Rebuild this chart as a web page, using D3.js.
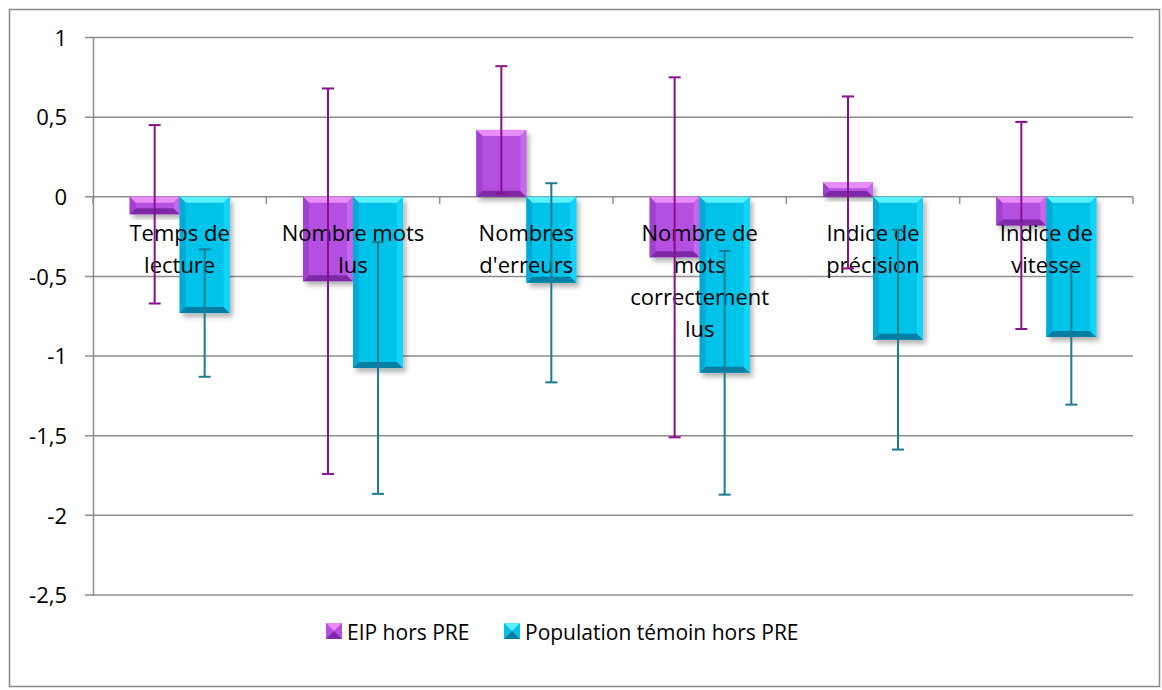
<!DOCTYPE html>
<html>
<head>
<meta charset="utf-8">
<script src="https://cdn.jsdelivr.net/npm/d3@7"></script>
<style>
  body { margin: 0; background: #fff; }
  text { font-family: "Open Sans", "Noto Sans", sans-serif; fill: #000; }
</style>
</head>
<body>
<script>
// data
var categories = ["Temps de lecture", "Nombre mots lus", "Nombres d'erreurs",
                  "Nombre de mots correctement lus", "Indice de précision", "Indice de vitesse"];
var catLines = [["Temps de", "lecture"], ["Nombre mots", "lus"], ["Nombres", "d'erreurs"],
                ["Nombre de", "mots", "correctement", "lus"], ["Indice de", "précision"], ["Indice de", "vitesse"]];
var series = ["EIP hors PRE", "Population témoin hors PRE"];
var eipValues = [-0.11, -0.53, 0.42, -0.38, 0.09, -0.18];
var eipErr = [0.56, 1.21, 0.40, 1.13, 0.54, 0.65];
var popValues = [-0.73, -1.075, -0.54, -1.105, -0.897, -0.88];
var popErr = [0.40, 0.79, 0.625, 0.765, 0.69, 0.425];
var yTicks = [1, 0.5, 0, -0.5, -1, -1.5, -2, -2.5];

var W = 1162, H = 690;
var plot = {left: 93, right: 1133, top: 37.5, bottom: 595};

var svg = d3.select("body").append("svg")
    .attr("width", W)
    .attr("height", H);

var defs = svg.append("defs");
var shadow = defs.append("filter").attr("id", "shadow")
    .attr("x", "-20%").attr("y", "-20%").attr("width", "150%").attr("height", "150%");
shadow.append("feDropShadow")
    .attr("dx", 3).attr("dy", 4).attr("stdDeviation", 2.5)
    .attr("flood-color", "#000").attr("flood-opacity", 0.3);

// colours per series: main, top bevel, side light, side dark, bottom bevel
var pal = [
  {main: "#b44fe2", top: "#ea8cf7", light: "#c566ee", dark: "#a040cf", bottom: "#7e2aa6", err: "#8a0f8e"},
  {main: "#04c3ea", top: "#5cf1ff", light: "#14d3f8", dark: "#03aad3", bottom: "#047fa3", err: "#1b7b90"}
];

// outer frame
svg.append("rect")
    .attr("x", 9.5).attr("y", 9.5)
    .attr("width", 1150).attr("height", 677)
    .attr("fill", "none").attr("stroke", "#8a8a8a").attr("stroke-width", 1.5);

var x0 = d3.scaleBand().domain(categories).range([plot.left, plot.right])
    .paddingInner(0.423).paddingOuter(0.2115);
var x1 = d3.scaleBand().domain(series).range([0, x0.bandwidth()]);
var y = d3.scaleLinear().domain([-2.5, 1]).range([plot.bottom, plot.top]);

// gridlines
svg.append("g").selectAll("line")
    .data(yTicks)
    .enter().append("line")
      .attr("x1", plot.left - 8).attr("x2", plot.right)
      .attr("y1", function(d) { return y(d); })
      .attr("y2", function(d) { return y(d); })
      .attr("stroke", "#8c8c8c").attr("stroke-width", 1.5);

// y axis
var yAxis = d3.axisLeft(y).tickValues(yTicks).tickSize(0).tickPadding(26)
    .tickFormat(function(d) { return String(d).replace(".", ","); });
var gy = svg.append("g").attr("transform", "translate(" + plot.left + ",0)").call(yAxis);
gy.select(".domain").attr("stroke", "#8c8c8c").attr("stroke-width", 1.5);
gy.selectAll("text").style("font-size", "22px").attr("dy", "0.35em");

// category ticks on the zero line
var catEdges = categories.map(function(c) { return x0(c) - x0.step() * 0.2115; });
catEdges.push(plot.right);
svg.append("g").selectAll("line")
    .data(catEdges)
    .enter().append("line")
      .attr("x1", function(d) { return d; }).attr("x2", function(d) { return d; })
      .attr("y1", y(0)).attr("y2", y(0) + 7)
      .attr("stroke", "#8c8c8c").attr("stroke-width", 1.5);

// bars
var rows = [];
categories.forEach(function(c, i) {
  rows.push({cat: c, s: 0, v: eipValues[i], e: eipErr[i]});
  rows.push({cat: c, s: 1, v: popValues[i], e: popErr[i]});
});

function bevel(g, d) {
  var bx = x0(d.cat) + x1(series[d.s]), bw = x1.bandwidth();
  var by = Math.min(y(0), y(d.v)), bh = Math.abs(y(d.v) - y(0));
  var b = Math.min(6, bh / 2.5), c = pal[d.s];
  g.append("rect").attr("x", bx).attr("y", by).attr("width", bw).attr("height", bh)
      .attr("fill", c.main).attr("filter", "url(#shadow)");
  var pts = function(a) { return a.map(function(p) { return p.join(","); }).join(" "); };
  g.append("polygon").attr("fill", c.top)
      .attr("points", pts([[bx, by], [bx + bw, by], [bx + bw - b, by + b], [bx + b, by + b]]));
  g.append("polygon").attr("fill", c.bottom)
      .attr("points", pts([[bx, by + bh], [bx + bw, by + bh], [bx + bw - b, by + bh - b], [bx + b, by + bh - b]]));
  g.append("polygon").attr("fill", c.dark)
      .attr("points", pts([[bx, by], [bx + b, by + b], [bx + b, by + bh - b], [bx, by + bh]]));
  g.append("polygon").attr("fill", c.light)
      .attr("points", pts([[bx + bw, by], [bx + bw - b, by + b], [bx + bw - b, by + bh - b], [bx + bw, by + bh]]));
}

var barG = svg.append("g");
rows.forEach(function(d) { bevel(barG.append("g"), d); });

// category labels
svg.append("g").selectAll("text")
    .data(categories)
    .enter().append("text")
      .attr("text-anchor", "middle")
      .style("font-size", "22px")
      .each(function(c, i) {
        var t = d3.select(this);
        catLines[i].forEach(function(line, k) {
          t.append("tspan")
            .attr("x", x0(c) + x0.bandwidth() / 2)
            .attr("y", 241 + k * 32)
            .text(line);
        });
      });

// error bars
var errG = svg.append("g").selectAll("g")
    .data(rows)
    .enter().append("g")
      .attr("stroke", function(d) { return pal[d.s].err; })
      .attr("stroke-width", 2);
errG.append("line")
    .attr("x1", function(d) { return x0(d.cat) + x1(series[d.s]) + x1.bandwidth() / 2; })
    .attr("x2", function(d) { return x0(d.cat) + x1(series[d.s]) + x1.bandwidth() / 2; })
    .attr("y1", function(d) { return y(d.v + d.e); })
    .attr("y2", function(d) { return y(d.v - d.e); });
[1, -1].forEach(function(sign) {
  errG.append("line")
      .attr("x1", function(d) { return x0(d.cat) + x1(series[d.s]) + x1.bandwidth() / 2 - 6; })
      .attr("x2", function(d) { return x0(d.cat) + x1(series[d.s]) + x1.bandwidth() / 2 + 6; })
      .attr("y1", function(d) { return y(d.v + sign * d.e); })
      .attr("y2", function(d) { return y(d.v + sign * d.e); });
});

// legend
var legend = svg.append("g");
var legX = [326, 504];
series.forEach(function(s, i) {
  var c = pal[i], lx = legX[i], ly = 623, sz = 16;
  legend.append("rect").attr("x", lx).attr("y", ly).attr("width", sz).attr("height", sz).attr("fill", c.main);
  legend.append("polygon").attr("fill", c.top)
      .attr("points", [[lx, ly], [lx + sz, ly], [lx + sz / 2, ly + sz / 2]].map(function(p) { return p.join(","); }).join(" "));
  legend.append("polygon").attr("fill", c.bottom)
      .attr("points", [[lx, ly + sz], [lx + sz, ly + sz], [lx + sz / 2, ly + sz / 2]].map(function(p) { return p.join(","); }).join(" "));
  legend.append("text")
      .attr("x", lx + 21).attr("y", 640)
      .style("font-size", "21px")
      .text(s);
});
</script>
</body>
</html>
